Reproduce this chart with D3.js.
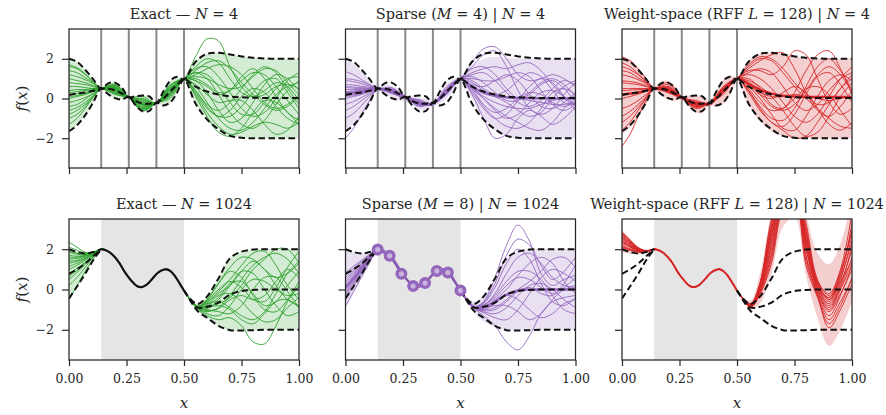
<!DOCTYPE html>
<html>
<head>
<meta charset="utf-8">
<script src="https://cdn.jsdelivr.net/npm/d3@7"></script>
<style>
  body { margin: 0; background: #fff; }
  svg { display: block; }
  text { font-family: "DejaVu Serif", serif; fill: #262626; }
</style>
</head>
<body>
<svg id="chart" width="886" height="415"></svg>
<script>
// ---------- grids ----------
const xTop = [0,.035,.07,.105,.14,.17,.2,.23,.26,.29,.32,.35,.38,.41,.44,.47,.5,.55,.6,.65,.7,.75,.8,.85,.9,.95,1];
const xS   = [0,.035,.07,.105,.14,.2,.26,.32,.38,.44,.5,.55,.6,.65,.7,.75,.8,.85,.9,.95,1];
const xL   = [0,.035,.07,.105,.14];
const xR   = [.5,.53,.56,.6,.65,.7,.75,.8,.85,.9,.95,1];
const xMid = [.14,.16,.18,.2,.22,.245,.27,.295,.315,.335,.36,.385,.41,.425,.44,.46,.48,.5];
const fMid = [2.0,1.95,1.82,1.6,1.3,0.82,0.45,0.17,0.12,0.22,0.5,0.82,0.98,1.0,0.92,0.68,0.32,-0.05];

// ---------- observations (top row) and inducing points ----------
const obsX = [0.14, 0.26, 0.38, 0.5];
const indX = [0.14, 0.192, 0.243, 0.294, 0.346, 0.397, 0.445, 0.5];
const indY = [1.98, 1.67, 0.78, 0.17, 0.32, 0.92, 0.84, -0.05];
const shadeRange = [0.14, 0.5];

// ---------- exact posterior, N = 4 ----------
const topMean  = [0.18,0.25,0.3,0.39,0.5,0.49,0.41,0.25,0.07,-0.12,-0.25,-0.26,-0.22,0.0,0.35,0.7,0.97,0.6,0.35,0.2,0.1,0.06,0.04,0.03,0.03,0.03,0.03];
const topUpper = [2.0,1.85,1.45,0.98,0.5,0.76,0.8,0.55,0.07,0.12,0.15,0.1,-0.22,0.35,0.9,1.1,0.97,1.85,2.25,2.3,2.22,2.12,2.05,2.02,2.0,2.0,2.0];
const topLower = [-1.65,-1.35,-0.85,-0.2,0.5,0.22,0.02,-0.05,0.07,-0.35,-0.65,-0.62,-0.22,-0.35,-0.2,0.3,0.97,-0.25,-1.05,-1.55,-1.88,-1.98,-2.0,-2.0,-2.0,-2.0,-2.0];

// ---------- exact posterior, N = 1024 (outside the data range) ----------
const botMeanL  = [0.78,1.0,1.28,1.65,2.0];
const botUpperL = [2.0,1.86,1.79,1.86,2.0];
const botLowerL = [-0.45,0.15,0.77,1.45,2.0];
const botMeanR  = [-0.05,-0.55,-0.9,-0.86,-0.65,-0.25,-0.08,-0.02,0,0,0,0];
const botUpperR = [-0.05,-0.5,-0.72,-0.35,0.55,1.55,1.88,1.98,2.0,2.0,2.0,2.0];
const botLowerR = [-0.05,-0.6,-1.08,-1.4,-1.8,-2.02,-2.03,-2.02,-2.0,-2.0,-2.0,-2.0];

// ---------- approximate bands ----------
const sparseTopUpper = [1.95,1.75,1.35,0.95,0.65,0.7,0.65,0.45,0.2,0.1,0.05,0.0,-0.05,0.3,0.75,1.0,1.1,1.6,2.0,2.1,2.05,2.02,2.0,2.0,2.0,2.0,2.0];
const sparseTopLower = [-1.6,-1.3,-0.8,-0.2,0.35,0.2,0.05,-0.1,-0.15,-0.35,-0.55,-0.55,-0.4,-0.25,0.0,0.4,0.85,0.0,-1.0,-1.6,-1.9,-2.0,-2.0,-2.0,-2.0,-2.0,-2.0];
const rffTopUpper = [2.1,1.95,1.55,1.05,0.6,0.85,0.88,0.6,0.15,0.15,0.18,0.12,-0.12,0.4,0.95,1.15,1.08,1.9,2.25,2.3,2.22,2.12,2.05,2.02,2.0,2.0,2.0];
const rffTopLower = [-1.8,-1.45,-0.95,-0.3,0.4,0.15,-0.05,-0.12,-0.05,-0.42,-0.72,-0.7,-0.35,-0.42,-0.28,0.2,0.88,-0.3,-1.15,-1.65,-1.9,-2.0,-2.0,-2.0,-2.0,-2.0,-2.0];
const sparseBotUpperL = [1.95,1.85,1.82,1.88,2.0];
const sparseBotLowerL = [-0.9,-0.2,0.6,1.4,2.0];
const sparseBotUpperR = [-0.05,-0.45,-0.6,-0.3,0.4,1.5,1.9,2.0,2.0,2.0,2.0,2.0];
const sparseBotLowerR = [-0.05,-0.65,-1.15,-1.6,-1.85,-2.0,-2.0,-2.0,-2.0,-2.0,-2.0,-2.0];
const rffBotUpperL = [2.95,2.55,2.15,1.98,2.0];
const rffBotLowerL = [1.85,1.78,1.75,1.83,2.0];
const rffBotUpperR = [-0.05,-0.4,-0.55,0.8,3.9,6.0,6.0,3.8,1.8,1.25,2.3,4.5];
const rffBotLowerR = [-0.05,-0.6,-1.0,-0.7,0.8,3.1,3.6,0.7,-1.4,-2.8,-2.0,-0.6];

// ---------- thick approximate means ----------
const sparseTopMean = [0.28,0.3,0.35,0.42,0.48,0.35,0.05,-0.2,-0.25,0.35,0.97,0.6,0.3,0.14,0.06,0.03,0.02,0.0,0.0,0.0,0.0];
const rffTopMean    = [0.2,0.25,0.3,0.4,0.5,0.45,0.05,-0.25,-0.28,0.42,1.0,0.75,0.45,0.25,0.14,0.1,0.08,0.08,0.08,0.08,0.08];
const sparseBotMeanL = [0.1,0.55,1.05,1.53,2.0];
const sparseBotMeanR = [-0.05,-0.55,-0.88,-0.9,-0.6,-0.25,-0.05,0,0,0,0,0];

// ---------- posterior samples, N = 4 (on xS) ----------
const exactTopSamples = [
[1.6,1.5,1.2,0.85,0.5,0.6,0.06,-0.3,-0.22,0.5,0.97,2.1,3.0,2.9,1.6,0.6,0.1,0.2,0.6,0.7,0.5],
[-1.3,-1.0,-0.5,0.05,0.5,0.45,0.05,-0.5,-0.22,0.2,0.97,1.4,1.8,1.9,1.5,0.8,0.2,-0.3,-0.6,-0.4,0.1],
[0.3,0.35,0.4,0.45,0.5,0.3,0.05,-0.1,-0.22,0.5,0.97,0.6,-0.2,-1.0,-1.5,-1.6,-1.2,-0.5,0.2,0.6,0.8],
[1.2,1.1,0.95,0.75,0.5,0.7,0.05,-0.55,-0.22,0.0,0.97,1.0,0.7,0.3,0.4,0.9,1.3,1.2,0.6,-0.1,-0.8],
[-0.6,-0.45,-0.2,0.15,0.5,0.2,0.05,-0.3,-0.22,0.6,0.97,0.2,-0.7,-1.4,-1.8,-1.7,-1.4,-1.2,-1.3,-1.5,-1.2],
[0.8,0.75,0.7,0.6,0.5,0.55,0.05,0.0,-0.22,0.3,0.97,1.5,1.6,1.1,0.3,-0.5,-0.9,-0.7,0.0,0.9,1.3],
[-0.2,-0.1,0.05,0.25,0.5,0.35,0.05,-0.4,-0.22,0.4,0.97,0.9,0.3,-0.6,-1.2,-1.0,-0.2,0.7,1.2,1.0,0.4],
[1.7,1.55,1.25,0.85,0.5,0.5,0.05,-0.2,-0.22,0.7,0.97,1.2,1.5,1.7,1.6,1.2,0.5,-0.2,-0.5,-0.3,0.2],
[0.0,0.1,0.2,0.35,0.5,0.65,0.05,-0.6,-0.22,0.1,0.97,0.4,-0.4,-0.9,-0.6,0.1,0.5,0.3,-0.4,-1.0,-1.3],
[0.6,0.6,0.55,0.5,0.5,0.25,0.05,0.1,-0.22,0.55,0.97,1.6,2.0,1.8,1.0,0.3,0.1,0.4,0.8,0.6,-0.1],
[-1.0,-0.8,-0.4,0.1,0.5,0.4,0.05,-0.35,-0.22,0.3,0.97,0.3,-0.5,-0.9,-0.9,-0.4,0.3,0.9,1.0,0.3,-0.5],
[0.2,0.25,0.3,0.4,0.5,0.6,0.05,-0.15,-0.22,0.45,0.97,1.1,1.0,0.7,0.5,0.6,1.1,1.5,1.4,0.8,0.2],
[-0.4,-0.3,-0.05,0.25,0.5,0.5,0.05,-0.45,-0.22,0.2,0.97,0.7,0.2,-0.2,-0.1,-0.1,-0.6,-1.3,-1.8,-1.6,-0.9],
[1.0,0.9,0.8,0.65,0.5,0.3,0.05,-0.05,-0.22,0.35,0.97,1.3,1.0,0.2,-0.7,-1.3,-1.5,-1.1,-0.3,0.4,0.9],
[0.4,0.45,0.45,0.5,0.5,0.45,0.05,-0.25,-0.22,0.65,0.97,0.4,-0.3,-0.6,-0.2,0.5,1.2,1.6,1.3,0.5,-0.3],
[-0.8,-0.6,-0.3,0.1,0.5,0.7,0.05,-0.5,-0.22,0.15,0.97,0.9,0.6,0.2,0.4,1.1,1.5,1.0,0.1,-0.7,-1.1],
[1.4,1.3,1.05,0.8,0.5,0.4,0.05,-0.6,-0.22,0.5,0.97,0.1,-0.9,-1.7,-1.9,-1.5,-0.7,-0.1,-0.2,-0.7,-1.3],
[0.1,0.15,0.25,0.35,0.5,0.55,0.05,-0.3,-0.22,0.25,0.97,1.3,1.2,0.6,-0.2,-0.8,-0.8,-0.2,0.5,1.0,1.1]
];
const sparseTopSamples = [
[1.35,1.2,0.95,0.7,0.5,0.45,0.05,-0.2,-0.25,0.4,0.95,1.8,2.5,2.6,2.0,1.2,0.9,1.0,1.2,1.0,0.6],
[-2.0,-1.5,-0.8,-0.1,0.45,0.3,0.0,-0.3,-0.3,0.3,1.0,0.2,-1.0,-2.0,-1.8,-1.0,-0.6,-0.9,-1.3,-1.0,-0.4],
[0.3,0.32,0.36,0.42,0.5,0.4,0.1,-0.25,-0.2,0.35,1.0,1.2,1.3,0.9,0.3,-0.2,-0.4,-0.1,0.5,0.9,0.7],
[0.6,0.58,0.55,0.52,0.5,0.3,0.0,-0.1,-0.3,0.5,0.95,0.5,0.0,-0.5,-0.9,-1.2,-1.5,-1.6,-1.2,-0.5,0.0],
[0.0,0.1,0.2,0.35,0.45,0.5,0.1,-0.35,-0.25,0.2,1.0,0.9,0.5,0.2,0.4,0.9,1.3,1.1,0.4,-0.2,-0.3],
[0.9,0.85,0.75,0.62,0.5,0.35,0.05,-0.15,-0.25,0.6,1.05,1.5,1.6,1.2,0.5,0.0,0.2,0.7,0.9,0.5,-0.2],
[-0.6,-0.4,-0.1,0.2,0.45,0.45,0.0,-0.3,-0.3,0.3,0.95,0.6,0.0,-0.6,-1.0,-0.8,-0.2,0.3,0.4,0.1,-0.4],
[0.45,0.45,0.46,0.48,0.5,0.25,0.05,-0.05,-0.25,0.45,1.0,0.3,-0.5,-1.0,-0.8,-0.1,0.6,1.0,0.8,0.1,-0.6],
[0.2,0.25,0.3,0.4,0.5,0.4,0.05,-0.4,-0.2,0.25,0.95,1.0,0.9,0.9,1.1,1.3,1.1,0.4,-0.3,-0.6,-0.3],
[1.0,0.95,0.85,0.68,0.5,0.55,0.1,-0.2,-0.3,0.45,1.0,1.6,2.2,2.4,1.6,0.4,-0.5,-0.8,-0.5,0.2,0.8],
[-0.3,-0.15,0.05,0.28,0.48,0.35,0.05,-0.25,-0.25,0.5,1.0,0.5,-0.3,-0.7,-0.5,0.0,0.3,0.2,-0.2,-0.4,-0.2],
[0.55,0.52,0.5,0.5,0.5,0.3,0.0,-0.2,-0.25,0.3,0.95,0.8,0.4,0.1,-0.2,-0.6,-0.9,-0.7,0.0,0.6,0.9],
[0.15,0.2,0.28,0.38,0.47,0.45,0.05,-0.3,-0.22,0.4,1.0,1.1,0.8,0.3,-0.1,-0.1,0.3,0.8,1.0,0.7,0.1],
[0.7,0.68,0.62,0.56,0.5,0.4,0.1,-0.15,-0.28,0.35,0.97,0.4,-0.4,-1.0,-1.4,-1.5,-1.2,-0.5,0.3,0.5,0.2],
[-1.0,-0.75,-0.35,0.1,0.45,0.4,0.0,-0.3,-0.25,0.25,0.95,0.7,0.6,0.9,1.2,0.9,0.2,-0.4,-0.5,-0.2,0.3],
[0.35,0.38,0.42,0.46,0.5,0.35,0.05,-0.2,-0.25,0.4,1.0,1.3,1.5,1.6,1.5,1.7,1.8,1.4,0.7,0.1,-0.3],
[0.25,0.27,0.32,0.4,0.48,0.38,0.05,-0.22,-0.24,0.38,0.98,0.65,0.3,0.1,0.05,0.0,-0.1,-0.2,-0.3,-0.3,-0.2],
[0.1,0.15,0.25,0.37,0.5,0.42,0.06,-0.25,-0.26,0.36,0.97,0.55,0.1,-0.2,-0.4,-0.5,-0.5,-0.3,-0.1,0.0,0.1]
];
const rffTopSamples = [
[2.1,1.9,1.5,1.0,0.5,0.6,0.05,-0.2,-0.22,0.5,1.0,1.7,2.1,2.0,1.5,0.8,0.2,-0.3,-0.2,0.5,1.2],
[-2.4,-1.8,-0.9,-0.1,0.5,0.4,0.0,-0.4,-0.22,0.2,1.0,0.4,-0.5,-1.2,-1.4,-0.8,0.2,1.1,1.3,0.7,-0.2],
[1.6,1.45,1.2,0.85,0.5,0.8,0.05,-0.5,-0.22,0.4,1.0,1.4,1.4,1.2,1.6,2.4,2.2,1.0,-0.2,-0.8,-0.5],
[-1.2,-0.9,-0.45,0.05,0.5,0.3,0.0,-0.2,-0.22,0.6,1.0,0.9,0.6,0.1,-0.6,-1.4,-1.9,-1.7,-0.9,0.1,0.8],
[0.8,0.75,0.7,0.6,0.5,0.45,0.05,-0.35,-0.22,0.3,1.0,1.0,0.5,-0.3,-0.5,0.3,1.4,2.2,2.4,1.5,0.2],
[0.2,0.25,0.3,0.4,0.5,0.55,0.05,-0.1,-0.22,0.45,1.0,0.3,-0.6,-1.2,-1.6,-2.0,-1.9,-1.2,-0.3,0.5,1.0],
[1.2,1.1,0.95,0.75,0.5,0.35,0.0,-0.3,-0.22,0.35,1.0,1.5,1.9,2.2,2.3,1.5,0.3,-0.6,-0.9,-0.4,0.4],
[-0.5,-0.35,-0.1,0.2,0.5,0.5,0.05,-0.4,-0.22,0.5,1.0,0.7,0.2,0.0,0.3,0.6,0.3,-0.5,-1.3,-1.6,-1.2],
[0.5,0.5,0.5,0.5,0.5,0.3,0.05,-0.25,-0.22,0.4,1.0,1.2,1.0,0.5,-0.2,-0.9,-1.2,-0.8,0.1,1.0,1.6],
[1.8,1.6,1.25,0.85,0.5,0.7,0.05,-0.15,-0.22,0.55,1.0,0.6,0.0,-0.8,-1.5,-1.6,-0.9,0.1,0.9,1.2,0.9],
[-0.9,-0.65,-0.3,0.1,0.5,0.4,0.0,-0.3,-0.22,0.3,1.0,1.3,1.5,1.3,0.6,-0.2,-0.6,-0.3,0.4,1.0,1.3],
[0.0,0.1,0.22,0.36,0.5,0.45,0.05,-0.45,-0.22,0.45,1.0,0.8,0.2,-0.4,-0.6,-0.3,0.4,1.2,1.6,1.2,0.3],
[1.4,1.3,1.05,0.8,0.5,0.6,0.05,-0.3,-0.22,0.35,1.0,0.5,-0.2,-0.6,-0.5,0.0,0.5,0.6,0.2,-0.6,-1.4],
[-1.6,-1.2,-0.6,0.0,0.5,0.35,0.0,-0.35,-0.22,0.5,1.0,1.6,2.0,1.9,1.3,0.6,0.0,-0.5,-1.0,-1.4,-1.5],
[0.4,0.42,0.45,0.48,0.5,0.5,0.05,-0.2,-0.22,0.4,1.0,0.7,0.3,0.1,0.1,0.2,0.1,0.0,-0.1,0.0,0.1],
[0.9,0.85,0.78,0.65,0.5,0.4,0.05,-0.25,-0.22,0.45,1.0,0.4,-0.4,-1.0,-1.1,-0.5,0.6,1.6,2.0,1.4,0.4]
];

// ---------- posterior samples, N = 1024 (left part on xL, right part on xR) ----------
const exactBotLeft = [
[2.35,2.1,1.85,1.85,2.0],[1.9,1.8,1.75,1.85,2.0],[1.5,1.55,1.65,1.82,2.0],[1.0,1.2,1.45,1.75,2.0],
[0.5,0.85,1.25,1.65,2.0],[-0.5,0.2,0.9,1.5,2.0],[1.7,1.65,1.7,1.84,2.0],[0.8,1.05,1.35,1.7,2.0],
[1.3,1.4,1.55,1.78,2.0],[2.1,1.95,1.8,1.85,2.0],[0.2,0.6,1.1,1.6,2.0],[1.15,1.3,1.5,1.77,2.0],
[1.6,1.6,1.68,1.83,2.0],[0.65,0.95,1.3,1.68,2.0],[1.85,1.75,1.72,1.84,2.0],[1.4,1.45,1.6,1.8,2.0]
];
const exactBotRight = [
[-0.05,-0.55,-0.85,-0.5,0.3,1.1,1.6,1.5,1.0,0.6,0.8,1.3],
[-0.05,-0.56,-0.95,-1.1,-0.9,-0.3,0.5,1.2,1.6,1.8,1.5,0.8],
[-0.05,-0.57,-1.0,-1.3,-1.5,-1.4,-1.8,-2.6,-2.7,-1.8,-0.6,0.2],
[-0.05,-0.55,-0.88,-0.8,-0.4,0.3,0.4,-0.2,-0.8,-0.6,0.2,0.9],
[-0.05,-0.54,-0.82,-0.6,-0.1,0.5,1.2,1.8,1.9,1.2,0.2,-0.5],
[-0.05,-0.56,-0.92,-1.0,-1.1,-1.2,-0.8,0.0,0.6,0.6,-0.1,-0.9],
[-0.05,-0.55,-0.86,-0.7,-0.6,-0.9,-1.3,-1.5,-1.1,-0.2,0.8,1.4],
[-0.05,-0.55,-0.9,-0.95,-0.5,0.2,0.9,0.8,0.0,-0.8,-1.3,-1.1],
[-0.05,-0.54,-0.84,-0.55,0.0,0.4,0.1,-0.5,-0.6,0.1,1.1,1.9],
[-0.05,-0.56,-0.94,-1.2,-1.3,-0.8,0.0,0.5,0.4,0.0,-0.3,-0.2],
[-0.05,-0.55,-0.87,-0.75,-0.3,-0.2,-0.6,-1.2,-1.6,-1.5,-0.9,-0.4],
[-0.05,-0.55,-0.89,-0.85,-0.7,-0.4,0.2,1.0,1.5,2.0,2.0,1.3],
[-0.05,-0.56,-0.9,-1.05,-0.95,-0.5,-0.3,-0.5,-0.3,0.4,1.0,0.6],
[-0.05,-0.54,-0.83,-0.5,0.3,0.9,0.6,-0.3,-1.0,-1.1,-0.5,0.4],
[-0.05,-0.55,-0.88,-0.9,-0.8,-1.0,-1.5,-1.7,-1.2,-0.6,-0.5,-0.9],
[-0.05,-0.55,-0.86,-0.65,-0.2,0.2,0.9,1.4,1.0,0.2,-0.5,-0.8]
];
const sparseBotLeft = [
[0.85,1.15,1.45,1.75,2.0],[0.6,0.95,1.3,1.68,2.0],[0.4,0.8,1.2,1.62,2.0],[0.2,0.65,1.1,1.57,2.0],
[0.0,0.5,1.0,1.52,2.0],[-0.2,0.35,0.9,1.47,2.0],[-0.45,0.15,0.78,1.4,2.0],[-0.83,-0.1,0.62,1.33,2.0],
[0.7,1.05,1.38,1.72,2.0],[0.3,0.72,1.15,1.6,2.0],[0.1,0.58,1.05,1.55,2.0],[-0.3,0.28,0.85,1.45,2.0],
[0.5,0.88,1.25,1.65,2.0],[-0.1,0.42,0.95,1.5,2.0]
];
const sparseBotRight = [
[-0.05,-0.55,-0.85,-0.6,0.6,2.2,3.2,2.4,0.8,0.2,0.5,0.7],
[-0.05,-0.56,-0.95,-1.3,-1.8,-2.6,-3.0,-2.3,-1.2,-0.6,-0.4,-0.3],
[-0.05,-0.55,-0.88,-0.8,-0.2,0.8,1.6,1.8,1.3,0.6,0.2,0.1],
[-0.05,-0.55,-0.9,-1.0,-0.9,-0.5,0.0,0.4,0.9,1.5,1.6,1.1],
[-0.05,-0.55,-0.86,-0.7,0.1,1.3,2.0,1.5,0.3,-0.6,-0.8,-0.4],
[-0.05,-0.56,-0.92,-1.1,-1.2,-0.9,-0.3,0.2,0.3,0.0,-0.5,-0.9],
[-0.05,-0.55,-0.87,-0.75,-0.4,0.2,0.6,0.5,0.1,-0.2,0.1,0.6],
[-0.05,-0.55,-0.9,-1.0,-0.7,-0.3,-0.5,-1.0,-1.4,-1.2,-0.7,-0.5],
[-0.05,-0.55,-0.85,-0.65,0.3,1.7,2.5,2.2,1.2,0.5,0.9,1.6],
[-0.05,-0.56,-0.93,-1.15,-1.4,-1.5,-1.0,-0.2,0.6,1.0,0.8,0.4],
[-0.05,-0.55,-0.88,-0.85,-0.5,0.0,0.7,1.3,1.6,1.3,0.4,-0.2],
[-0.05,-0.55,-0.89,-0.9,-0.8,-0.8,-1.1,-1.5,-1.2,-0.5,0.0,0.2],
[-0.05,-0.55,-0.87,-0.8,-0.3,0.4,0.9,0.9,0.5,-0.3,-1.0,-1.2],
[-0.05,-0.56,-0.91,-1.05,-1.0,-0.6,-0.1,0.1,-0.2,-0.3,0.3,1.2]
];
const rffBotLeft = [
[2.6,2.3,2.0,1.9,2.0],[2.3,2.1,1.92,1.88,2.0],[2.85,2.45,2.08,1.93,2.0],[2.05,1.95,1.86,1.86,2.0],
[2.5,2.22,1.97,1.9,2.0],[2.2,2.02,1.9,1.87,2.0],[2.7,2.35,2.03,1.91,2.0],[2.4,2.15,1.94,1.89,2.0],
[2.75,2.4,2.05,1.92,2.0],[2.15,1.98,1.88,1.86,2.0],[2.55,2.26,1.98,1.9,2.0],[2.35,2.12,1.93,1.88,2.0],
[2.65,2.32,2.02,1.91,2.0],[2.45,2.18,1.96,1.89,2.0],[2.1,1.96,1.87,1.86,2.0],[2.8,2.42,2.06,1.92,2.0]
];
const rffBotRight = [
[-0.05,-0.5,-0.75,0.2,3.0,4.9,5.2,2.9,0.4,-0.5,0.6,2.4],
[-0.05,-0.52,-0.8,0.0,2.2,4.5,4.9,2.0,0.0,-0.9,0.1,1.6],
[-0.05,-0.55,-0.85,-0.15,1.7,4.2,4.8,1.7,-0.2,-1.3,-0.3,1.2],
[-0.05,-0.48,-0.7,0.35,3.5,5.2,5.4,3.3,0.5,-0.3,0.9,2.9],
[-0.05,-0.5,-0.78,0.1,2.7,4.7,5.0,2.4,0.1,-0.7,0.3,2.0],
[-0.05,-0.55,-0.9,-0.25,1.3,4.0,4.6,1.2,-0.4,-1.7,-0.8,0.6],
[-0.05,-0.5,-0.75,0.15,2.9,4.8,5.1,2.8,0.3,-0.4,0.7,3.3],
[-0.05,-0.52,-0.82,-0.05,2.0,4.4,4.9,2.1,-0.1,-1.1,-0.2,1.0],
[-0.05,-0.5,-0.76,0.25,3.2,5.0,5.1,2.5,0.2,-0.6,0.4,1.4],
[-0.05,-0.53,-0.85,-0.1,1.8,4.3,4.8,1.6,-0.3,-1.5,-0.6,0.5],
[-0.05,-0.49,-0.72,0.3,3.4,5.1,5.3,3.1,0.4,-0.2,1.0,3.8],
[-0.05,-0.51,-0.8,0.05,2.5,4.6,5.0,2.6,0.2,-0.8,0.2,2.2],
[-0.05,-0.54,-0.88,-0.2,1.5,4.1,4.7,1.4,-0.3,-1.9,-1.0,0.3],
[-0.05,-0.5,-0.77,0.12,2.7,4.7,5.1,2.7,0.3,-0.5,0.5,2.7],
[-0.05,-0.52,-0.8,0.0,2.3,4.5,4.9,2.1,0.0,-1.0,0.0,1.3],
[-0.05,-0.5,-0.74,0.2,3.0,4.9,5.0,2.3,0.2,-0.4,0.8,3.0]
];

// ---------- labels ----------
const xTicks = [0, 0.25, 0.5, 0.75, 1];
const yTicks = [-2, 0, 2];
const titles = [
  [[["Exact — ",0],["N",1],[" = 4",0]],
   [["Sparse (",0],["M",1],[" = 4) | ",0],["N",1],[" = 4",0]],
   [["Weight-space (RFF ",0],["L",1],[" = 128) | ",0],["N",1],[" = 4",0]]],
  [[["Exact — ",0],["N",1],[" = 1024",0]],
   [["Sparse (",0],["M",1],[" = 8) | ",0],["N",1],[" = 1024",0]],
   [["Weight-space (RFF ",0],["L",1],[" = 128) | ",0],["N",1],[" = 1024",0]]]
];

// ---------- colours ----------
const GREEN = "#2ca02c", PURPLE = "#9467bd", RED = "#d62728";
const FILLS = { [GREEN]: "#d4ebd4", [PURPLE]: "#e9e1f2", [RED]: "#f5cfd0" };

// ---------- helpers ----------
const zip = (xs, ys) => xs.map((x, i) => [x, ys[i]]);
const zipBand = (xs, lo, hi) => xs.map((x, i) => [x, lo[i], hi[i]]);
const midPts = xMid.slice(1, -1).map((x, i) => [x, fMid[i + 1]]);
const joinLR = (l, r) => zip(xL, l).concat(midPts, zip(xR, r));
const joinBandLR = (lo1, hi1, lo2, hi2) =>
  zipBand(xL, lo1, hi1).concat(midPts.map(p => [p[0], p[1], p[1]]), zipBand(xR, lo2, hi2));

const panels = [
  { row: 0, col: 0, color: GREEN,
    band: zipBand(xTop, topLower, topUpper),
    samples: exactTopSamples.map(s => zip(xS, s)) },
  { row: 0, col: 1, color: PURPLE,
    band: zipBand(xTop, sparseTopLower, sparseTopUpper),
    samples: sparseTopSamples.map(s => zip(xS, s)),
    thick: zip(xS, sparseTopMean) },
  { row: 0, col: 2, color: RED,
    band: zipBand(xTop, rffTopLower, rffTopUpper),
    samples: rffTopSamples.map(s => zip(xS, s)),
    thick: zip(xS, rffTopMean) },
  { row: 1, col: 0, color: GREEN,
    band: joinBandLR(botLowerL, botUpperL, botLowerR, botUpperR),
    samples: exactBotLeft.map((l, i) => joinLR(l, exactBotRight[i])),
    solidMid: "#111" },
  { row: 1, col: 1, color: PURPLE,
    band: joinBandLR(sparseBotLowerL, sparseBotUpperL, sparseBotLowerR, sparseBotUpperR),
    samples: sparseBotLeft.map((l, i) => joinLR(l, sparseBotRight[i])),
    thick: joinLR(sparseBotMeanL, sparseBotMeanR),
    inducing: true },
  { row: 1, col: 2, color: RED,
    band: joinBandLR(rffBotLowerL, rffBotUpperL, rffBotLowerR, rffBotUpperR),
    samples: rffBotLeft.map((l, i) => joinLR(l, rffBotRight[i])),
    solidMid: RED, midOnTop: true }
];

// ---------- layout ----------
const colLeft = [69, 345.5, 622];
const panelW = 230;
const rowBox = [[29, 168], [219, 360]];

const svg = d3.select("#chart");
const defs = svg.append("defs");
const curve = d3.curveCatmullRom.alpha(0.5);

function addTitle(g, cx, y, parts) {
  const t = g.append("text").attr("x", cx).attr("y", y)
    .attr("text-anchor", "middle").style("font-size", "14.5px");
  parts.forEach(([s, it]) => t.append("tspan").text(s).style("font-style", it ? "italic" : "normal"));
}

panels.forEach((p, k) => {
  const x0 = colLeft[p.col], x1 = x0 + panelW;
  const [top, bottom] = rowBox[p.row];
  const x = d3.scaleLinear().domain([0, 1]).range([x0, x1]);
  const y = d3.scaleLinear().domain([-3.5, 3.5]).range([bottom, top]);
  const line = d3.line().x(d => x(d[0])).y(d => y(d[1])).curve(curve);
  const area = d3.area().x(d => x(d[0])).y0(d => y(d[1])).y1(d => y(d[2])).curve(curve);

  const clipId = "clip" + k;
  defs.append("clipPath").attr("id", clipId).append("rect")
    .attr("x", x0).attr("y", top).attr("width", panelW).attr("height", bottom - top);

  const g = svg.append("g");
  const plot = g.append("g").attr("clip-path", `url(#${clipId})`);

  if (p.row === 1) {
    plot.append("rect").attr("x", x(shadeRange[0])).attr("y", top)
      .attr("width", x(shadeRange[1]) - x(shadeRange[0])).attr("height", bottom - top)
      .attr("fill", "#e5e5e5");
  }

  plot.append("path").datum(p.band).attr("d", area).attr("fill", FILLS[p.color]);

  if (p.row === 0) {
    plot.selectAll("line.obs").data(obsX).join("line").attr("class", "obs")
      .attr("x1", d => x(d)).attr("x2", d => x(d)).attr("y1", top).attr("y2", bottom)
      .attr("stroke", "#8a8a8a").attr("stroke-width", 2);
  }

  plot.selectAll("path.sample").data(p.samples).join("path").attr("class", "sample")
    .attr("d", line).attr("fill", "none").attr("stroke", p.color).attr("stroke-width", 0.9);

  if (p.thick) {
    plot.append("path").datum(p.thick).attr("d", line).attr("fill", "none")
      .attr("stroke", p.color).attr("stroke-width", 2.4);
  }
  if (p.midOnTop) {
    plot.append("path").datum(zip(xMid, fMid)).attr("d", line).attr("fill", "none")
      .attr("stroke", p.solidMid).attr("stroke-width", 2);
  }

  // exact posterior mean and two-sigma bounds
  const dashSets = p.row === 0
    ? [zip(xTop, topUpper), zip(xTop, topMean), zip(xTop, topLower)]
    : [zip(xL, botUpperL), zip(xL, botMeanL), zip(xL, botLowerL),
       zip(xR, botUpperR), zip(xR, botMeanR), zip(xR, botLowerR)];
  plot.selectAll("path.dash").data(dashSets).join("path").attr("class", "dash")
    .attr("d", line).attr("fill", "none").attr("stroke", "#111")
    .attr("stroke-width", 2).attr("stroke-dasharray", "6.5,3.5");

  if (p.solidMid && !p.midOnTop) {
    plot.append("path").datum(zip(xMid, fMid)).attr("d", line).attr("fill", "none")
      .attr("stroke", p.solidMid).attr("stroke-width", 2.2);
  }
  if (p.inducing) {
    const pts = zip(indX, indY);
    plot.append("path").datum(pts).attr("d", d3.line().x(d => x(d[0])).y(d => y(d[1])))
      .attr("fill", "none").attr("stroke", "#7d55a8").attr("stroke-width", 1.4);
    plot.selectAll("circle.ind").data(pts).join("circle").attr("class", "ind")
      .attr("cx", d => x(d[0])).attr("cy", d => y(d[1])).attr("r", 4.3)
      .attr("fill", "#c9b4e0").attr("stroke", PURPLE).attr("stroke-width", 3.4);
  }

  // axes
  const ax = g.append("g").attr("transform", `translate(0,${bottom})`)
    .call(d3.axisBottom(x).tickValues(xTicks).tickSize(6).tickSizeOuter(0).tickPadding(8)
      .tickFormat(p.row === 1 ? d3.format(".2f") : () => ""));
  const ay = g.append("g").attr("transform", `translate(${x0},0)`)
    .call(d3.axisLeft(y).tickValues(yTicks).tickSize(7).tickSizeOuter(0).tickPadding(8)
      .tickFormat(p.col === 0 ? (d => d < 0 ? "\u2212" + Math.abs(d) : String(d)) : () => ""));
  [ax, ay].forEach(a => {
    a.select(".domain").remove();
    a.selectAll(".tick line").attr("stroke", "#262626").attr("stroke-width", 1.2);
    a.selectAll(".tick text").attr("fill", "#262626")
      .style("font-family", "'DejaVu Serif', serif").style("font-size", "12.5px");
  });

  g.append("rect").attr("x", x0).attr("y", top).attr("width", panelW).attr("height", bottom - top)
    .attr("fill", "none").attr("stroke", "#262626").attr("stroke-width", 1.25);

  addTitle(g, (x0 + x1) / 2, top - 10, titles[p.row][p.col]);

  if (p.row === 1) {
    g.append("text").attr("x", (x0 + x1) / 2).attr("y", 408).attr("text-anchor", "middle")
      .style("font-size", "15px").style("font-style", "italic").text("x");
  }
  if (p.col === 0) {
    const t = g.append("text")
      .attr("transform", `translate(27,${(top + bottom) / 2}) rotate(-90)`)
      .attr("text-anchor", "middle").style("font-size", "15px");
    [["f",1],["(",0],["x",1],[")",0]].forEach(([s, it]) =>
      t.append("tspan").text(s).style("font-style", it ? "italic" : "normal"));
  }
});
</script>
</body>
</html>
